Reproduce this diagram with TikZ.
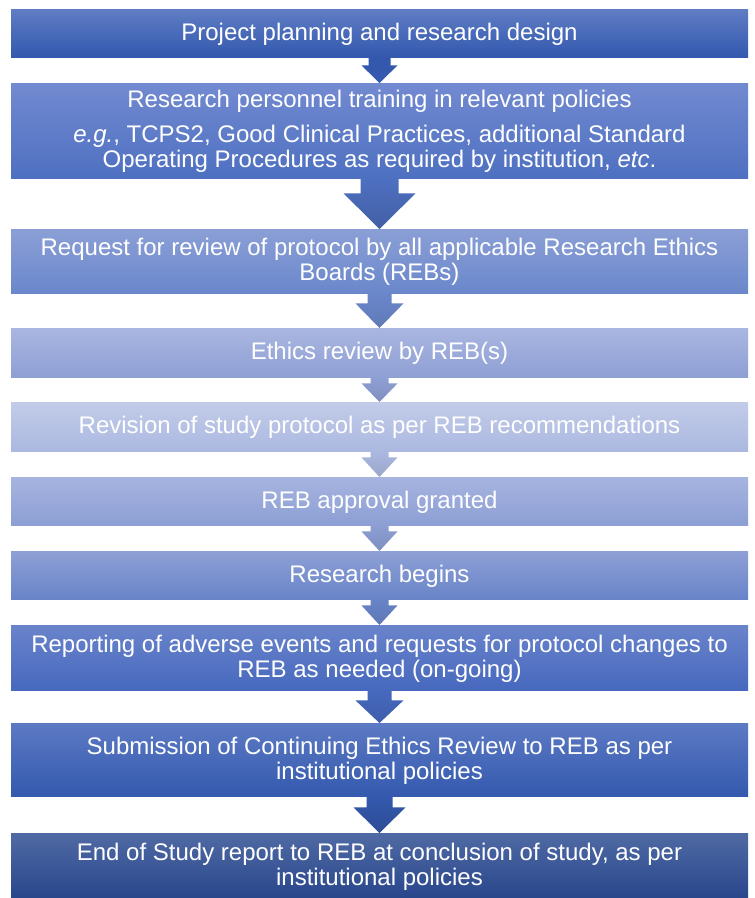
\documentclass[tikz,border=0pt]{standalone}
\usepackage{graphicx}
\usepackage{fontspec}
\setmainfont{Liberation Sans}
\usetikzlibrary{calc}
\definecolor{c1t}{HTML}{5F7DC4}\definecolor{c1b}{HTML}{3358AE}
\definecolor{c2t}{HTML}{728AD0}\definecolor{c2b}{HTML}{4E70C1}
\definecolor{c3t}{HTML}{8B9FD6}\definecolor{c3b}{HTML}{6A87CB}
\definecolor{c4t}{HTML}{A9B6E0}\definecolor{c4b}{HTML}{8E9FD4}
\definecolor{c5t}{HTML}{C2CCE9}\definecolor{c5b}{HTML}{ABB8E0}
\definecolor{c6t}{HTML}{A6B4DF}\definecolor{c6b}{HTML}{8C9ED4}
\definecolor{c7t}{HTML}{8EA0D6}\definecolor{c7b}{HTML}{6884C8}
\definecolor{c8t}{HTML}{6A84CB}\definecolor{c8b}{HTML}{4668BE}
\definecolor{c9t}{HTML}{5C7AC4}\definecolor{c9b}{HTML}{3459AE}
\definecolor{c10t}{HTML}{4F6AA3}\definecolor{c10b}{HTML}{29468C}
\newcommand\stx[1]{\raisebox{-2pt}[\height][\depth]{\fontsize{24}{25}\selectfont\begin{tabular}{@{}c@{}}#1\end{tabular}}}
\newcommand\flowarrow[7]{%
  \shade[top color=#6,bottom color=#7] ($(#1.south)+(-#3,0)$) -- ($(#1.south)+(#3,0)$) -- ($(#1.south)+(#3,-#5)$) -- ($(#1.south)+(#4,-#5)$) -- (#2.north) -- ($(#1.south)+(-#4,-#5)$) -- ($(#1.south)+(-#3,-#5)$) -- cycle;}
\tikzset{flowbox/.style={rectangle, minimum width=737pt, inner sep=0pt, anchor=north, text=white}}
\begin{document}
\begin{tikzpicture}[x=1pt,y=1pt]
\useasboundingbox[fill=white] (0,0) rectangle (755,-898);
\node[flowbox, minimum height=48pt, top color=c1t, bottom color=c1b] (b1) at (379.5,-9) {\stx{Project planning and research design}};
\node[flowbox, minimum height=95pt, top color=c2t, bottom color=c2b] (b2) at (379.5,-83) {\stx{Research personnel training in relevant policies\\[10pt] \textit{e.g.}, TCPS2, Good Clinical Practices, additional Standard\\ Operating Procedures as required by institution, \textit{etc}.}};
\node[flowbox, minimum height=64pt, top color=c3t, bottom color=c3b] (b3) at (379.5,-229) {\stx{Request for review of protocol by all applicable Research Ethics\\ Boards (REBs)}};
\node[flowbox, minimum height=49pt, top color=c4t, bottom color=c4b] (b4) at (379.5,-328) {\stx{Ethics review by REB(s)}};
\node[flowbox, minimum height=49pt, top color=c5t, bottom color=c5b] (b5) at (379.5,-402) {\stx{Revision of study protocol as per REB recommendations}};
\node[flowbox, minimum height=48pt, top color=c6t, bottom color=c6b] (b6) at (379.5,-477) {\stx{REB approval granted}};
\node[flowbox, minimum height=48pt, top color=c7t, bottom color=c7b] (b7) at (379.5,-551) {\stx{Research begins}};
\node[flowbox, minimum height=65pt, top color=c8t, bottom color=c8b] (b8) at (379.5,-625) {\stx{Reporting of adverse events and requests for protocol changes to\\ REB as needed (on-going)}};
\node[flowbox, minimum height=73pt, top color=c9t, bottom color=c9b] (b9) at (379.5,-723) {\stx{Submission of Continuing Ethics Review to REB as per\\ institutional policies}};
\node[flowbox, minimum height=65pt, top color=c10t, bottom color=c10b] (b10) at (379.5,-833) {\stx{End of Study report to REB at conclusion of study, as per\\ institutional policies}};
\flowarrow{b1}{b2}{11}{18}{8}{c1b}{c9b}
\flowarrow{b2}{b3}{19}{36}{15}{c2b}{c2b!85!black}
\flowarrow{b3}{b4}{12}{24}{10}{c3b}{c3b!90!black}
\flowarrow{b4}{b5}{9}{18}{6}{c4b}{c4b!90!black}
\flowarrow{b5}{b6}{9}{18}{6}{c5b}{c5b!90!black}
\flowarrow{b6}{b7}{9}{18}{6}{c6b}{c6b!90!black}
\flowarrow{b7}{b8}{9}{18}{6}{c7b}{c7b!90!black}
\flowarrow{b8}{b9}{12}{24}{10}{c8b}{c8b!90!black}
\flowarrow{b9}{b10}{13}{26}{11}{c9b}{c9b!85!black}
\end{tikzpicture}
\end{document}
